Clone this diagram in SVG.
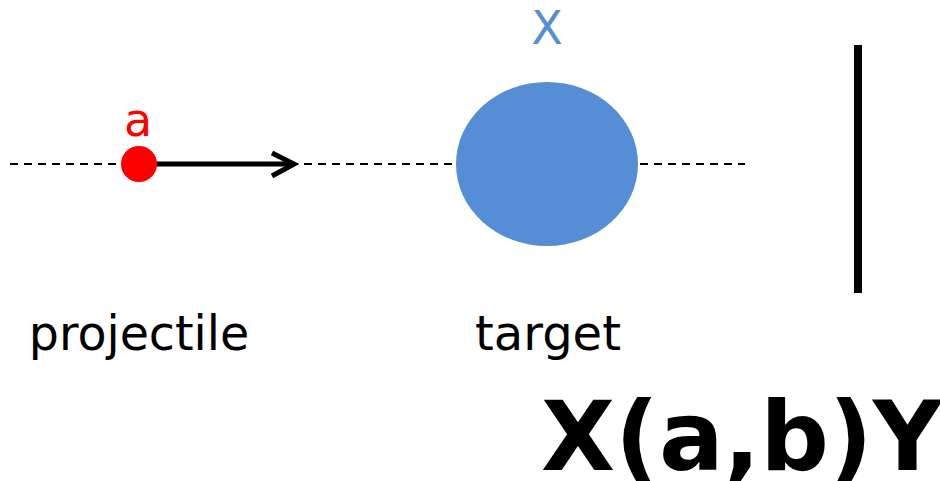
<svg xmlns="http://www.w3.org/2000/svg" width="940" height="481" viewBox="0 0 940 481">
<style>
.t{font-family:"DejaVu Sans",sans-serif;}
</style>
<rect width="940" height="481" fill="#fff"/>
<g id="connectors">
<line x1="10" y1="164" x2="745" y2="164" stroke="#000" stroke-width="1.8" stroke-dasharray="8 6"/>
<line x1="150" y1="164" x2="290" y2="164" stroke="#000" stroke-width="5"/>
<polyline points="272,153 294,164 272,176" fill="none" stroke="#000" stroke-width="5"/>
</g>
<g id="projectile">
<circle cx="139" cy="164" r="18" fill="#ff0000"/>
<text class="t" x="138" y="136" font-size="46" fill="#ff0000" text-anchor="middle">a</text>
<text class="t" x="139" y="350" font-size="47.5" fill="#000" text-anchor="middle">projectile</text>
</g>
<g id="target">
<ellipse cx="547" cy="164" rx="91" ry="82" fill="#558ed5"/>
<text class="t" x="547" y="44" font-size="46" fill="#558ed5" text-anchor="middle">X</text>
<text class="t" x="548" y="350" font-size="48" fill="#000" text-anchor="middle">target</text>
</g>
<g id="detector">
<rect x="854" y="45" width="8" height="248" fill="#000"/>
</g>
<text class="t" x="541" y="470" font-size="96" font-weight="bold" fill="#000">X(a,b)Y</text>
</svg>
